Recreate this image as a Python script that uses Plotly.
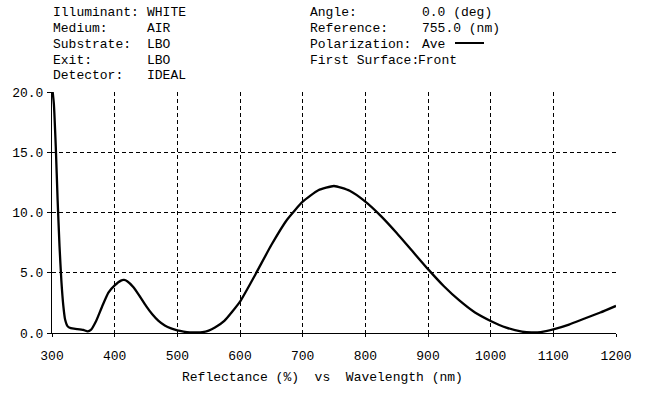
import plotly.graph_objects as go

wavelength = [300, 303, 306, 309, 312, 315, 318, 321, 325, 330, 340, 350, 357, 362, 370, 380, 390,
              400, 410, 415, 420, 430, 440, 450, 460, 470, 480, 490, 500, 510, 520, 530, 540, 550,
              560, 575, 600, 625, 650, 675, 700, 725, 750, 775, 800, 825, 850, 875, 900, 925, 950,
              975, 1000, 1025, 1050, 1065, 1080, 1100, 1125, 1150, 1175, 1200]
reflectance = [20.5, 19.0, 15.5, 11.0, 7.2, 4.3, 2.3, 1.1, 0.55, 0.4, 0.33, 0.25, 0.14, 0.25, 0.95, 2.2, 3.35,
               3.95, 4.35, 4.4, 4.3, 3.8, 3.05, 2.25, 1.55, 1.0, 0.62, 0.38, 0.22, 0.12, 0.06, 0.05, 0.07, 0.2,
               0.45, 1.0, 2.6, 4.9, 7.3, 9.4, 10.9, 11.85, 12.2, 11.8, 10.9, 9.7, 8.3, 6.8, 5.3, 3.9, 2.7,
               1.7, 1.0, 0.45, 0.12, 0.05, 0.08, 0.3, 0.7, 1.2, 1.7, 2.25]

x_ticks = [300, 400, 500, 600, 700, 800, 900, 1000, 1100, 1200]
y_ticks = [0, 5, 10, 15, 20]
y_tick_labels = ["0.0", "5.0", "10.0", "15.0", "20.0"]

header_left = [("Illuminant:", "WHITE"), ("Medium:", "AIR"), ("Substrate:", "LBO"),
               ("Exit:", "LBO"), ("Detector:", "IDEAL")]
header_right = [("Angle:", "0.0 (deg)"), ("Reference:", "755.0 (nm)"),
                ("Polarization:", "Ave"), ("First Surface:", "Front")]
x_title = "Reflectance (%)  vs  Wavelength (nm)"

W, H = 650, 393
L, R, T, B = 52, 616, 92, 333
FONT = "Liberation Mono"

def px(xp):
    return (xp - L) / (R - L)

def py(yp):
    return (B - yp) / (B - T)

fig = go.Figure()
fig.add_trace(go.Scatter(x=wavelength, y=reflectance, mode="lines",
                         line=dict(color="black", width=2.3, shape="spline", smoothing=0.5),
                         showlegend=False, hoverinfo="x+y"))

grid = dict(showgrid=True, gridcolor="black", gridwidth=1, griddash="4px,3px")
fig.update_xaxes(range=[300, 1200], tickvals=x_ticks, ticktext=[str(v) for v in x_ticks],
                 showline=True, linecolor="black", linewidth=1, ticks="outside", ticklen=3,
                 tickcolor="black", zeroline=False, ticklabelstandoff=7,
                 tickfont=dict(family=FONT, size=13, color="black"), **grid)
fig.update_yaxes(range=[0, 20], tickvals=y_ticks, ticktext=y_tick_labels,
                 showline=True, linecolor="black", linewidth=1, ticks="outside", ticklen=4,
                 tickcolor="black", zeroline=False, ticklabelstandoff=1,
                 tickfont=dict(family=FONT, size=13, color="black"), **grid)

ann = []
rows_y = [12, 28, 44, 60, 75]
for (lab, val), yy in zip(header_left, rows_y):
    ann.append(dict(text=lab, x=px(51), y=py(yy), xanchor="left"))
    ann.append(dict(text=val, x=px(145), y=py(yy), xanchor="left"))
for (lab, val), yy in zip(header_right, rows_y):
    ann.append(dict(text=lab, x=px(308), y=py(yy), xanchor="left"))
    ann.append(dict(text=val, x=px(420) if lab != "First Surface:" else px(416), y=py(yy),
                    xanchor="left"))
ann.append(dict(text=x_title, x=px(322), y=py(377), xanchor="center"))

for a in ann:
    a.update(xref="paper", yref="paper", yanchor="middle", showarrow=False,
             font=dict(family=FONT, size=13, color="black"))
    fig.add_annotation(**a)

fig.add_shape(type="line", xref="paper", yref="paper", x0=px(455), x1=px(484),
              y0=py(43), y1=py(43), line=dict(color="black", width=2))

fig.update_layout(width=W, height=H, margin=dict(l=L, r=W - R, t=T, b=H - B),
                  paper_bgcolor="white", plot_bgcolor="white")
fig.write_html("out.html", config={"displayModeBar": False},
               post_script="document.body.style.margin='0';document.body.style.padding='0';")
